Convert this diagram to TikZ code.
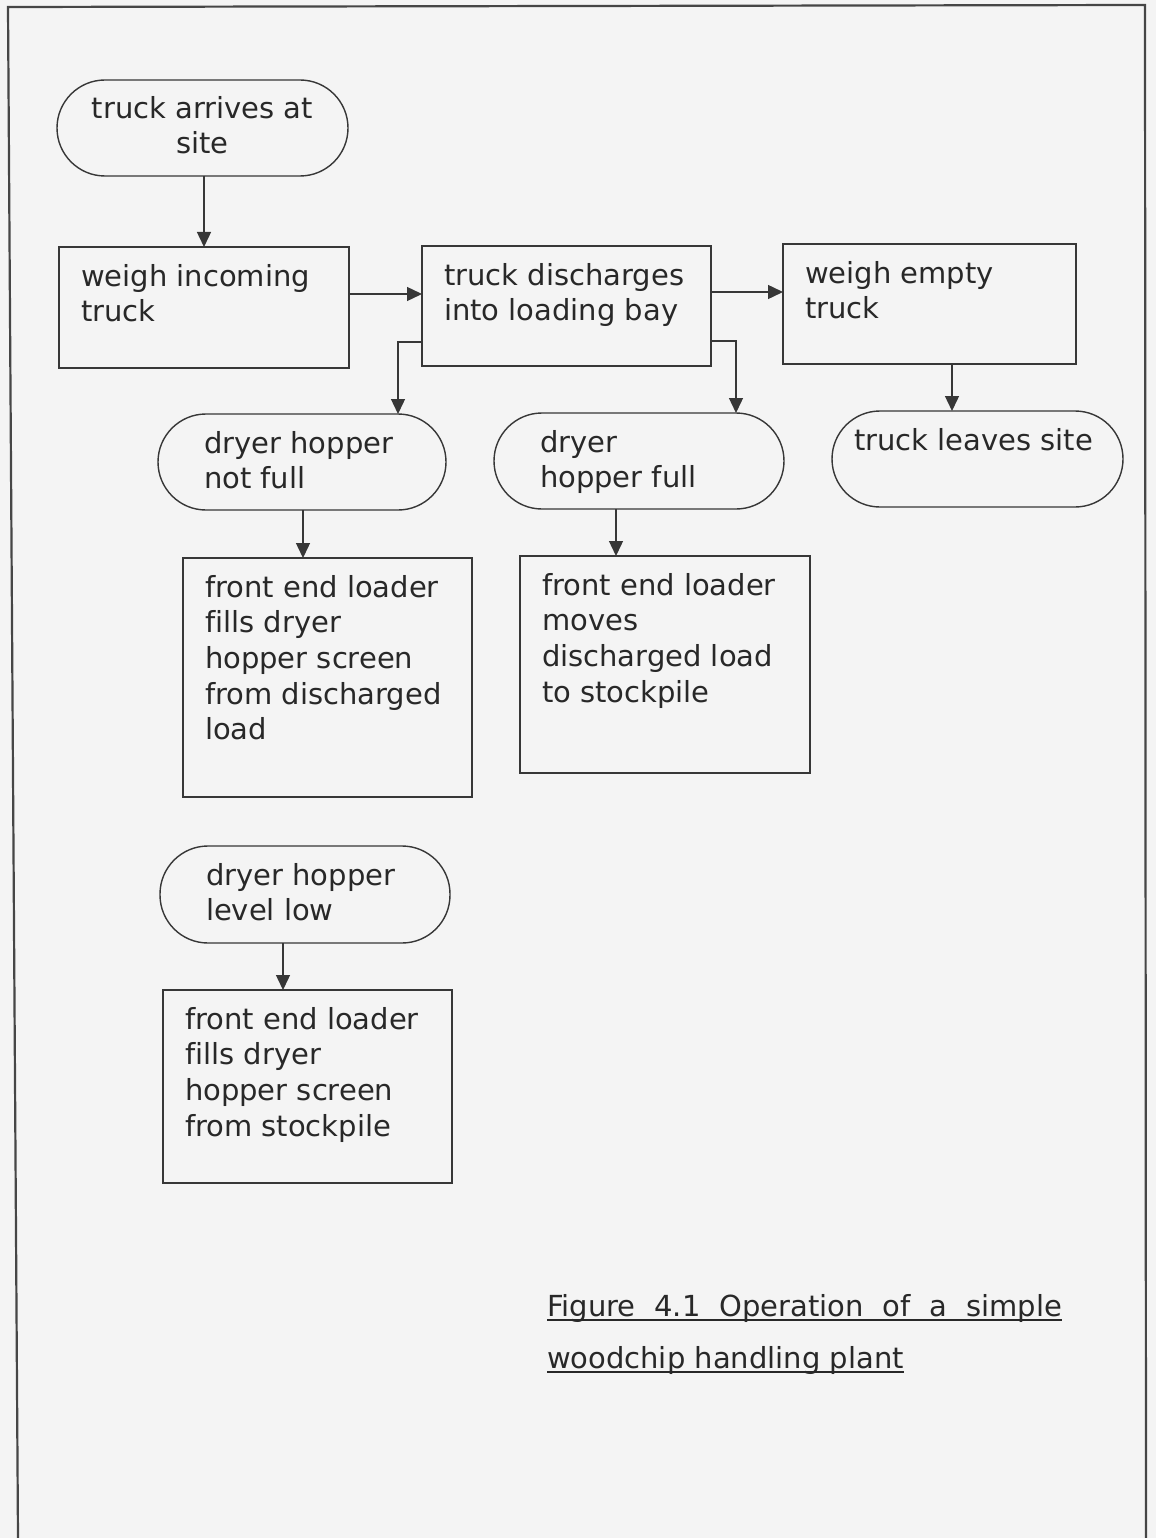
\documentclass[tikz,border=0pt]{standalone}
\usepackage{fontspec}
\setmainfont{DejaVu Sans}[Ligatures=NoCommon]
\usetikzlibrary{arrows.meta}
\definecolor{paper}{RGB}{244,244,244}
\definecolor{ink}{RGB}{40,40,40}
\definecolor{edge}{RGB}{55,55,55}
\definecolor{frame}{RGB}{70,70,70}

\begin{document}
\begin{tikzpicture}[x=1pt,y=-1pt,
  every node/.style={inner sep=0pt, outer sep=0pt},
  procbox/.style={draw=edge, line width=1.4pt, rectangle},
  termbox/.style={draw=edge, line width=1.4pt, rectangle, rounded corners=48pt},
  lbl/.style={text=ink, align=left, font=\fontsize{29pt}{35.7pt}\selectfont},
  clbl/.style={lbl, align=center},
  arr/.style={draw=edge, line width=1.4pt, -{Triangle[length=15pt,width=14pt]}}
]
% page and frame
\fill[paper] (0,0) rectangle (1156,1538);
\useasboundingbox (0,0) rectangle (1156,1538);
\draw[frame, line width=2.2pt] (18,1538) -- (8,7) -- (1145,5) -- (1146,1538);

% flowchart shapes
\node[termbox, minimum width=291pt, minimum height=96pt]  (s1)  at (202.5,128)   {};
\node[procbox, minimum width=290pt, minimum height=121pt] (b2)  at (204,307.5)   {};
\node[procbox, minimum width=289pt, minimum height=120pt] (b3)  at (566.5,306)   {};
\node[procbox, minimum width=293pt, minimum height=120pt] (b4)  at (929.5,304)   {};
\node[termbox, minimum width=288pt, minimum height=96pt]  (s5)  at (302,462)     {};
\node[termbox, minimum width=290pt, minimum height=96pt]  (s6)  at (639,461)     {};
\node[termbox, minimum width=291pt, minimum height=96pt]  (s7)  at (977.5,459)   {};
\node[procbox, minimum width=289pt, minimum height=239pt] (b8)  at (327.5,677.5) {};
\node[procbox, minimum width=290pt, minimum height=217pt] (b9)  at (665,664.5)   {};
\node[termbox, minimum width=290pt, minimum height=97pt]  (s10) at (305,894.5)   {};
\node[procbox, minimum width=289pt, minimum height=193pt] (b11) at (307.5,1086.5){};

% texts
\node[clbl, anchor=north] (t1) at ([yshift=-16pt]s1.north) {truck arrives at\\site};
\node[lbl, anchor=north west] (t2) at ([shift={(22,17)}]b2.north west) {weigh incoming\\truck};
\node[lbl, anchor=north west] (t3) at ([shift={(22,17)}]b3.north west) {truck discharges\\into loading bay};
\node[lbl, anchor=north west] (t4) at ([shift={(22,17)}]b4.north west) {weigh empty\\truck};
\node[lbl, anchor=north west] (t5) at ([shift={(46,17)}]s5.north west) {dryer hopper\\not full};
\node[lbl, anchor=north west] (t6) at ([shift={(46,17)}]s6.north west) {dryer\\hopper full};
\node[clbl, anchor=north] (t7) at ([shift={(-4,17)}]s7.north) {truck leaves site};
\node[lbl, anchor=north west] (t8) at ([shift={(22,17)}]b8.north west) {front end loader\\fills dryer\\hopper screen\\from discharged\\load};
\node[lbl, anchor=north west] (t9) at ([shift={(22,17)}]b9.north west) {front end loader\\moves\\discharged load\\to stockpile};
\node[lbl, anchor=north west] (t10) at ([shift={(46,17)}]s10.north west) {dryer hopper\\level low};
\node[lbl, anchor=north west] (t11) at ([shift={(22,17)}]b11.north west) {front end loader\\fills dryer\\hopper screen\\from stockpile};

% guide coordinates for the connectors
\coordinate (ya) at (0,294);
\coordinate (yb) at (0,292);
\coordinate (yc) at (0,342);
\coordinate (yd) at (0,341);
\coordinate (xa) at (398,0);
\coordinate (xb) at (736,0);
\coordinate (xc) at (952,0);
\coordinate (xd) at (616,0);
\coordinate (xe) at (283,0);
\coordinate (xf) at (303,0);
\coordinate (xg) at (204,0);

% connectors
\draw[arr] (xg |- s1.south) -- (xg |- b2.north);
\draw[arr] (b2.east |- ya) -- (b3.west |- ya);
\draw[arr] (b3.east |- yb) -- (b4.west |- yb);
\draw[arr] (b3.west |- yc) -| (xa |- s5.north);
\draw[arr] (b3.east |- yd) -| (xb |- s6.north);
\draw[arr] (xc |- b4.south) -- (xc |- s7.north);
\draw[arr] (xf |- s5.south) -- (xf |- b8.north);
\draw[arr] (xd |- s6.south) -- (xd |- b9.north);
\draw[arr] (xe |- s10.south) -- (xe |- b11.north);

% caption
\node[lbl, anchor=base west] (cap1) at (547,1316) {\makebox[515pt][s]{Figure 4.1 Operation of a simple}};
\node[lbl, anchor=base west] (cap2) at (547,1368) {woodchip handling plant};
\draw[ink, line width=1.3pt] ([yshift=-4pt]cap1.base west) -- ([yshift=-4pt]cap1.base east);
\draw[ink, line width=1.3pt] ([yshift=-4pt]cap2.base west) -- ([yshift=-4pt]cap2.base east);
\end{tikzpicture}
\end{document}
